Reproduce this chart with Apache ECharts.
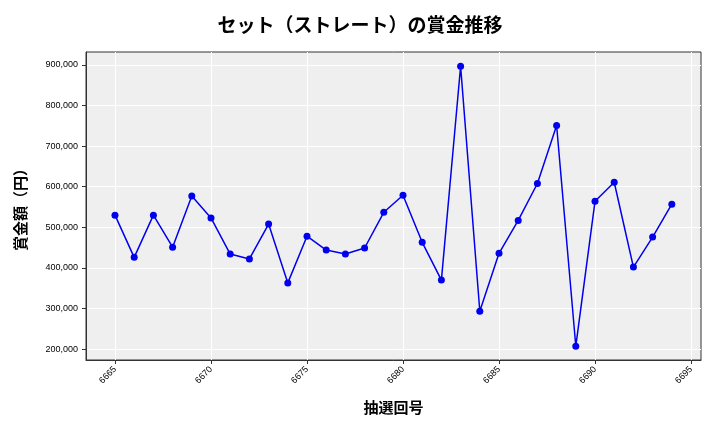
<!DOCTYPE html>
<html><head><meta charset="utf-8">
<script src="https://cdn.jsdelivr.net/npm/echarts@6/dist/echarts.min.js"></script>
<style>html,body{margin:0;padding:0;background:#fff}#c{width:720px;height:432px}</style>
</head><body><div id="c"></div>
<script>
const draws = [6665,6666,6667,6668,6669,6670,6671,6672,6673,6674,6675,6676,6677,6678,6679,6680,6681,6682,6683,6684,6685,6686,6687,6688,6689,6690,6691,6692,6693,6694];
const prizes = [530000,426000,530000,451000,577000,523000,434000,422000,508000,363000,478000,444000,434000,449000,537000,579000,463000,370000,897000,293000,436000,517000,608000,751000,207000,564000,611000,402000,476000,557000];
const xTicks = [6665,6670,6675,6680,6685,6690,6695];
const yTicks = [200000,300000,400000,500000,600000,700000,800000,900000];
const font = '"Noto Sans CJK JP","Noto Sans",sans-serif';
const chart = echarts.init(document.getElementById('c'));
chart.setOption({
  animation:false,
  title:{text:'セット（ストレート）の賞金推移',left:'center',top:10,textStyle:{fontFamily:font,fontSize:19,fontWeight:'bold',color:'#000'}},
  grid:{left:86,right:19,top:52,bottom:72,show:true,backgroundColor:'#efefef',borderColor:'#333',borderWidth:1},
  xAxis:{type:'value',min:6663.49,max:6695.52,name:'抽選回号',nameLocation:'middle',nameGap:40,
    nameTextStyle:{fontFamily:font,fontSize:15,fontWeight:'bold',color:'#000'},
    axisLine:{lineStyle:{color:'#333'}},
    axisTick:{show:true,customValues:xTicks,length:4,lineStyle:{color:'#333'}},
    axisLabel:{rotate:45,fontSize:9,color:'#000',showMinLabel:true,showMaxLabel:true,
      customValues:xTicks,formatter:v=>String(v)},
    splitLine:{show:true,lineStyle:{color:'#fff',width:1}}},
  yAxis:{type:'value',min:173000,max:932000,name:'賞金額（円）',nameLocation:'middle',nameGap:58,
    nameTextStyle:{fontFamily:font,fontSize:15,fontWeight:'bold',color:'#000'},
    axisLine:{show:true,lineStyle:{color:'#333'}},axisTick:{show:true,length:4,customValues:yTicks},
    axisLabel:{fontSize:9,color:'#000',customValues:yTicks,formatter:v=>v.toLocaleString('en-US')},
    splitLine:{show:true,lineStyle:{color:'#fff',width:1}}},
  series:[{type:'line',data:draws.map((d,i)=>[d,prizes[i]]),symbol:'circle',symbolSize:7,
    lineStyle:{color:'#0000ee',width:1.5},itemStyle:{color:'#0000ee'}}]
});
</script></body></html>
